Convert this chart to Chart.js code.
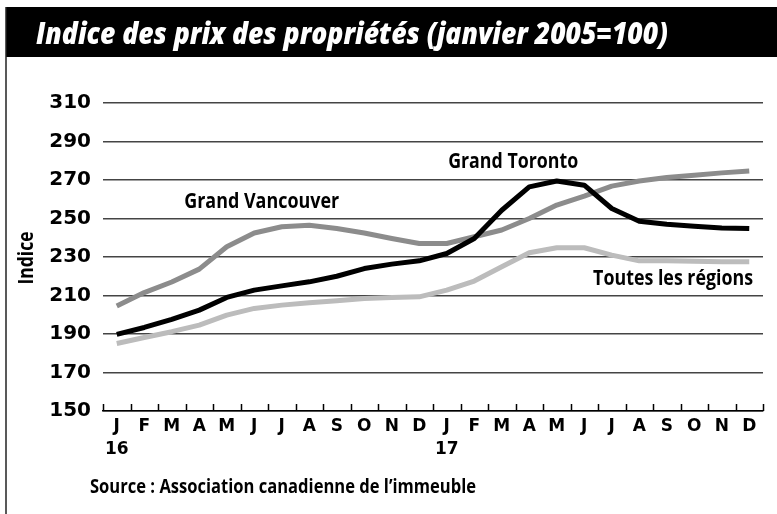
<!DOCTYPE html>
<html>
<head>
<meta charset="utf-8">
<script src="https://cdn.jsdelivr.net/npm/chart.js@4/dist/chart.umd.min.js"></script>
<style>
  html, body { margin: 0; padding: 0; background: #fff; }
  #wrap { position: relative; width: 777px; height: 514px; }
</style>
</head>
<body>
<div id="wrap"><canvas id="chart" width="777" height="514"></canvas></div>
<script>
// months, two years
const months = ['J', 'F', 'M', 'A', 'M', 'J', 'J', 'A', 'S', 'O', 'N', 'D',
                'J', 'F', 'M', 'A', 'M', 'J', 'J', 'A', 'S', 'O', 'N', 'D'];
const years = ['16', '', '', '', '', '', '', '', '', '', '', '',
               '17', '', '', '', '', '', '', '', '', '', '', ''];

const vancouver = [204.5, 211.5, 217, 223.7, 235.3, 242.5, 245.7, 246.5, 244.8, 242.5, 239.6, 237,
                   237, 240.5, 244, 250, 257, 261.6, 266.8, 269.5, 271.3, 272.5, 273.7, 274.7];
const toronto = [189.8, 193.4, 197.6, 202.4, 209, 212.8, 215, 217.1, 220, 224, 226.3, 228,
                 231.8, 239.6, 254.3, 266.4, 269.5, 267.3, 255.2, 248.6, 247, 246, 245.1, 244.8];
const toutes = [185.1, 188.2, 191.2, 194.6, 199.8, 203.3, 205, 206.2, 207.3, 208.5, 209, 209.3,
                212.8, 217.5, 224.9, 232.2, 234.8, 234.8, 231, 228, 228, 227.8, 227.5, 227.5];

const yTicks = [150, 170, 190, 210, 230, 250, 270, 290, 310];

const labels = months.map((m, i) => years[i] ? [m, years[i]] : m);

// draw text squeezed to a given width
function fitText(ctx, text, x, y, width, align) {
  const w = ctx.measureText(text).width;
  const s = width / w;
  ctx.save();
  ctx.translate(x, y);
  ctx.scale(s, 1);
  ctx.textAlign = align || 'left';
  ctx.fillText(text, 0, 0);
  ctx.restore();
}

const decor = {
  id: 'decor',
  beforeDraw(chart) {
    const ctx = chart.ctx;
    ctx.save();
    ctx.fillStyle = '#fff';
    ctx.fillRect(0, 0, 777, 514);
    // title bar
    ctx.fillStyle = '#000';
    ctx.fillRect(6, 7, 771, 50);
    ctx.strokeStyle = '#222';
    ctx.lineWidth = 1.5;
    ctx.beginPath();
    ctx.moveTo(6, 7);
    ctx.lineTo(6, 514);
    ctx.stroke();
    ctx.fillStyle = '#fff';
    ctx.font = 'italic 800 30px "Open Sans"';
    ctx.textBaseline = 'alphabetic';
    fitText(ctx, 'Indice des prix des propriétés (janvier 2005=100)', 36, 44, 632);
    ctx.restore();
  },
  afterDraw(chart) {
    const ctx = chart.ctx;
    const x = chart.scales.x, y = chart.scales.y;
    const area = chart.chartArea;
    ctx.save();
    // tick marks between months, pointing up from the axis
    ctx.strokeStyle = '#000';
    ctx.lineWidth = 1.5;
    ctx.beginPath();
    for (let i = 0; i <= months.length; i++) {
      const px = Math.round(x.getPixelForDecimal(i / months.length)) + 0.5;
      ctx.moveTo(px, area.bottom);
      ctx.lineTo(px, area.bottom - 7);
    }
    ctx.stroke();

    ctx.fillStyle = '#000';
    ctx.font = 'bold 21px "Open Sans"';
    ctx.textBaseline = 'alphabetic';
    fitText(ctx, 'Grand Vancouver', x.getPixelForDecimal(0.123), y.getPixelForValue(255.5), 155);
    fitText(ctx, 'Grand Toronto', x.getPixelForDecimal(0.523), y.getPixelForValue(276), 130);
    fitText(ctx, 'Toutes les régions', x.getPixelForDecimal(0.985), y.getPixelForValue(215.5), 160, 'right');
    ctx.font = 'bold 20px "Open Sans"';
    fitText(ctx, 'Source : Association canadienne de l’immeuble', 90, 493, 386);
    // axis title
    ctx.save();
    ctx.translate(33, 258);
    ctx.rotate(-Math.PI / 2);
    ctx.font = 'bold 21px "Open Sans"';
    fitText(ctx, 'Indice', 0, 0, 53, 'center');
    ctx.restore();
    ctx.restore();
  }
};

new Chart(document.getElementById('chart'), {
  type: 'line',
  data: {
    labels: labels,
    datasets: [
      { label: 'Grand Toronto', data: toronto, borderColor: '#000', order: 0 },
      { label: 'Grand Vancouver', data: vancouver, borderColor: '#8c8c8c', order: 1 },
      { label: 'Toutes les régions', data: toutes, borderColor: '#bcbcbc', order: 2 }
    ]
  },
  options: {
    responsive: false,
    devicePixelRatio: 1,
    animation: false,
    layout: { padding: { left: 15, right: 14, top: 103, bottom: 43 } },
    elements: {
      line: { borderWidth: 5, tension: 0, borderJoinStyle: 'round', borderCapStyle: 'butt', fill: false },
      point: { radius: 0 }
    },
    plugins: {
      legend: { display: false },
      tooltip: { enabled: false }
    },
    scales: {
      x: {
        offset: true,
        afterFit: s => { s.height = 60; },
        grid: { display: true, offset: true, drawOnChartArea: false, drawTicks: false, color: '#000', lineWidth: 1.5 },
        border: { display: true, color: '#000', width: 1.5 },
        ticks: {
          color: '#000', autoSkip: false, maxRotation: 0, padding: 5,
          font: { family: 'DejaVu Sans', weight: 'bold', size: 17, lineHeight: 1.3 }
        }
      },
      y: {
        min: 150, max: 310,
        afterFit: s => { s.width = 88; },
        afterBuildTicks: s => { s.ticks = yTicks.map(v => ({ value: v })); },
        grid: { color: '#444', lineWidth: 1.5, drawTicks: false },
        border: { display: false },
        ticks: {
          color: '#000', padding: 12,
          font: { family: 'DejaVu Sans', weight: 'bold', size: 20 }
        }
      }
    }
  },
  plugins: [decor]
});
</script>
</body>
</html>
